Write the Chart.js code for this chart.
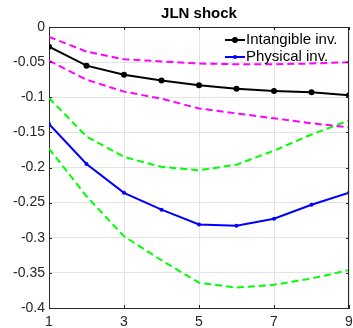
<!DOCTYPE html>
<html>
<head>
<meta charset="utf-8">
<script src="https://cdn.jsdelivr.net/npm/chart.js@4/dist/chart.umd.min.js"></script>
<style>
  html, body { margin: 0; padding: 0; background: #fff; }
  #wrap { width: 353px; height: 328px; position: relative; }
</style>
</head>
<body>
<div id="wrap"><canvas id="c"></canvas></div>
<script>
const horizons = [1, 2, 3, 4, 5, 6, 7, 8, 9];
const intangible = [-0.028, -0.055, -0.068, -0.076, -0.083, -0.088, -0.091, -0.093, -0.097];
const intangibleUpper = [-0.014, -0.035, -0.046, -0.049, -0.052, -0.053, -0.053, -0.052, -0.050];
const intangibleLower = [-0.048, -0.075, -0.092, -0.102, -0.116, -0.123, -0.130, -0.137, -0.143];
const physical = [-0.138, -0.195, -0.236, -0.260, -0.281, -0.283, -0.273, -0.253, -0.236];
const physicalUpper = [-0.101, -0.156, -0.185, -0.199, -0.204, -0.196, -0.176, -0.153, -0.133];
const physicalLower = [-0.173, -0.241, -0.298, -0.332, -0.364, -0.371, -0.367, -0.358, -0.346];
const xTicks = [1, 3, 5, 7, 9];
const legendLabels = ['Intangible inv.', 'Physical inv.'];
const title = 'JLN shock';

const pts = arr => arr.map((v, i) => ({ x: horizons[i], y: v }));
const axisColor = '#262626';
const font = 'Liberation Sans, Arial, Helvetica, sans-serif';

const dashed = (data, color) => ({
  data: pts(data), borderColor: color, borderWidth: 2, borderDash: [7, 4],
  pointRadius: 0, fill: false, tension: 0
});

// legend + title + box drawn MATLAB style
const extras = {
  id: 'extras',
  afterDraw(chart) {
    const { ctx, chartArea: a } = chart;
    ctx.save();
    ctx.strokeStyle = axisColor;
    ctx.lineWidth = 1;
    ctx.beginPath();
    ctx.moveTo(a.left, a.top + 0.5); ctx.lineTo(a.right, a.top + 0.5);
    ctx.moveTo(a.right - 0.5, a.top); ctx.lineTo(a.right - 0.5, a.bottom);
    ctx.stroke();
    // inward ticks
    const xs = chart.scales.x, ys = chart.scales.y;
    ctx.beginPath();
    xTicks.forEach(t => {
      const px = Math.round(xs.getPixelForValue(t)) + 0.5;
      ctx.moveTo(px, a.bottom); ctx.lineTo(px, a.bottom - 3);
      ctx.moveTo(px, a.top); ctx.lineTo(px, a.top + 3);
    });
    ys.ticks.forEach(t => {
      const py = Math.round(ys.getPixelForValue(t.value)) + 0.5;
      ctx.moveTo(a.left, py); ctx.lineTo(a.left + 3, py);
      ctx.moveTo(a.right, py); ctx.lineTo(a.right - 3, py);
    });
    ctx.stroke();

    ctx.fillStyle = '#000';
    ctx.font = 'bold 15px ' + font;
    ctx.textAlign = 'center';
    ctx.textBaseline = 'middle';
    ctx.fillText(title, (a.left + a.right) / 2, 14);

    const items = [chart.data.datasets[0], chart.data.datasets[3]];
    ctx.font = '15px ' + font;
    ctx.textAlign = 'left';
    items.forEach((ds, i) => {
      const y = 40 + i * 17;
      ctx.strokeStyle = ds.borderColor;
      ctx.lineWidth = 2;
      ctx.beginPath(); ctx.moveTo(225, y); ctx.lineTo(245, y); ctx.stroke();
      ctx.fillStyle = ds.borderColor;
      ctx.beginPath(); ctx.arc(235, y, ds.pointRadius, 0, Math.PI * 2); ctx.fill();
      ctx.fillStyle = '#000';
      ctx.fillText(legendLabels[i], 246, y);
    });
    ctx.restore();
  }
};

new Chart(document.getElementById('c'), {
  type: 'line',
  data: {
    datasets: [
      { data: pts(intangible), borderColor: '#000', backgroundColor: '#000', borderWidth: 2,
        pointRadius: 3, pointBackgroundColor: '#000', pointBorderWidth: 0, tension: 0 },
      dashed(intangibleUpper, '#ff00ff'),
      dashed(intangibleLower, '#ff00ff'),
      { data: pts(physical), borderColor: '#0000ff', backgroundColor: '#0000ff', borderWidth: 2,
        pointRadius: 2, pointBackgroundColor: '#0000ff', pointBorderWidth: 0, tension: 0 },
      dashed(physicalUpper, '#00ff00'),
      dashed(physicalLower, '#00ff00')
    ]
  },
  options: {
    responsive: true,
    maintainAspectRatio: false,
    animation: false,
    layout: { padding: { top: 27, right: 4, left: 0, bottom: 0 } },
    plugins: { legend: { display: false }, tooltip: { enabled: false }, title: { display: false } },
    scales: {
      x: {
        type: 'linear', min: 1, max: 9,
        afterBuildTicks: s => { s.ticks = xTicks.map(v => ({ value: v })); },
        afterFit: s => { s.height = 20; s.paddingRight = 0; s.paddingLeft = 0; },
        grid: { color: '#e3e3e3', drawTicks: false },
        border: { color: axisColor, width: 1 },
        ticks: { color: axisColor, font: { family: font, size: 14 }, padding: 6, maxRotation: 0 }
      },
      y: {
        min: -0.4, max: 0,
        ticks: { stepSize: 0.05, color: axisColor, font: { family: font, size: 14 }, padding: 4,
          callback: v => String(Math.round(v * 100) / 100) },
        afterFit: s => { s.width = 49; },
        grid: { color: '#e3e3e3', drawTicks: false },
        border: { color: axisColor, width: 1 }
      }
    }
  },
  plugins: [extras]
});
</script>
</body>
</html>
